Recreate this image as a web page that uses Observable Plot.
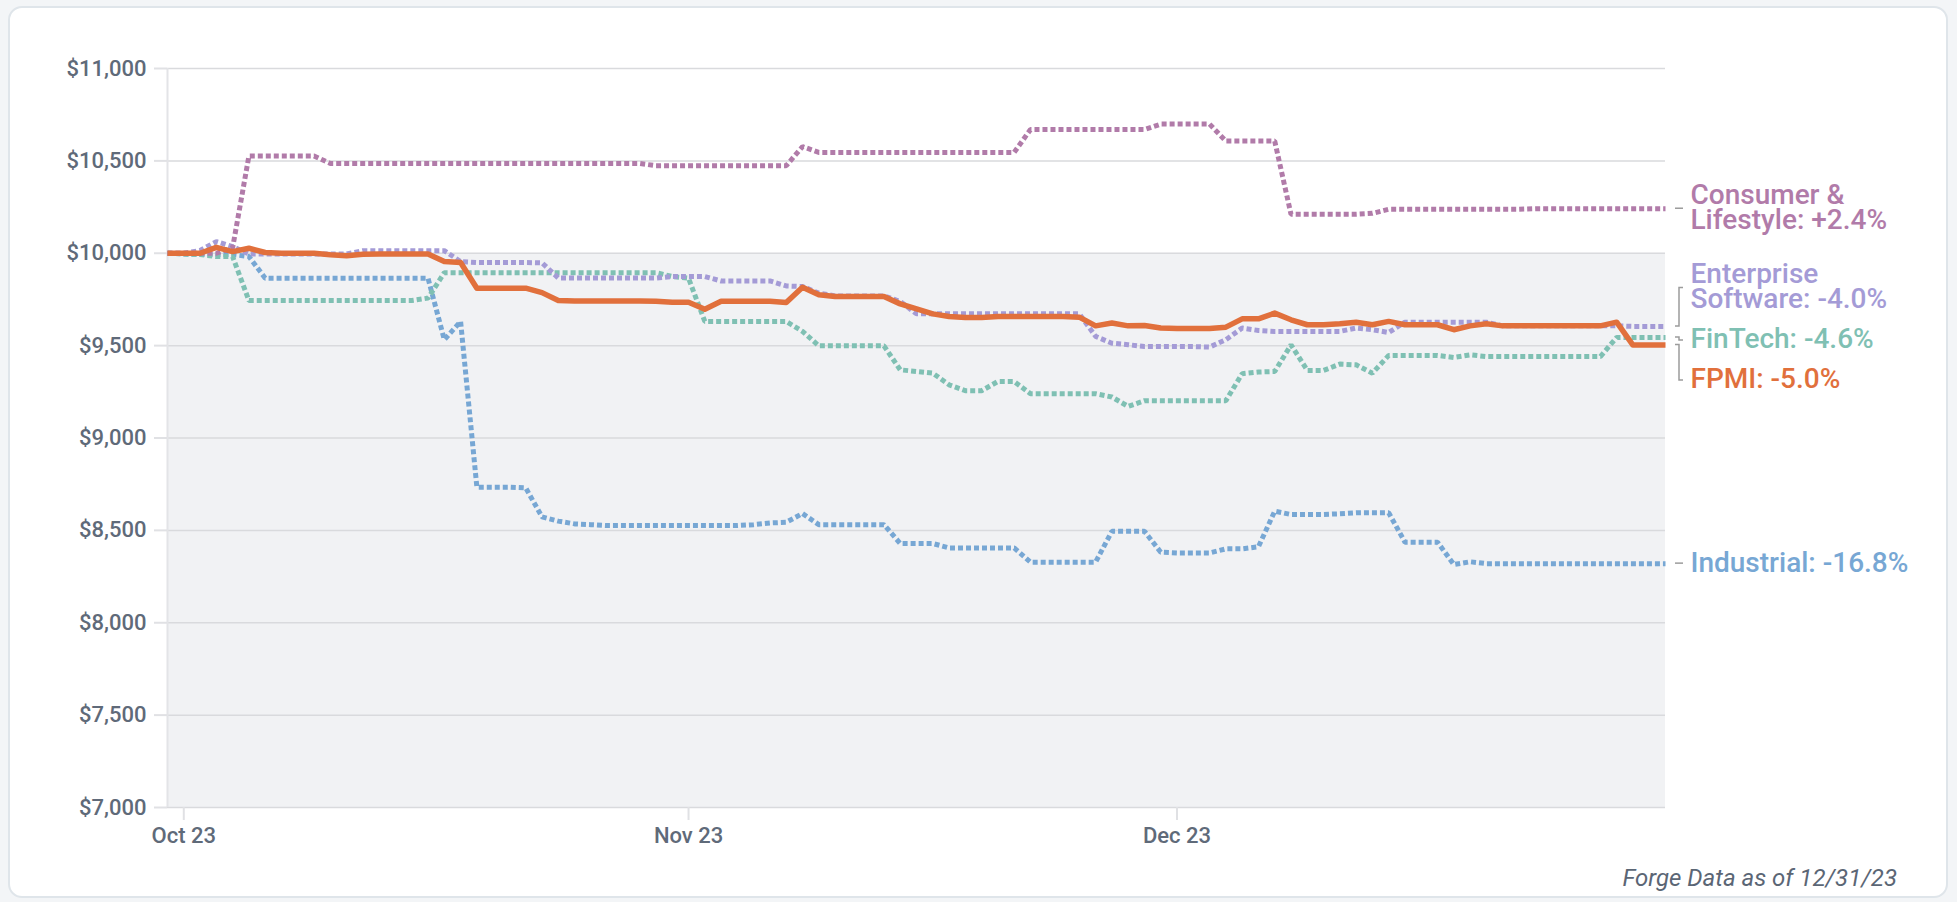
<!DOCTYPE html>
<html>
<head>
<meta charset="utf-8">
<script src="https://cdn.jsdelivr.net/npm/d3@7"></script>
<script src="https://cdn.jsdelivr.net/npm/@observablehq/plot@0.6"></script>
<style>
  html, body { margin: 0; padding: 0; width: 1957px; height: 902px; overflow: hidden; background: #f3f5f7; font-family: Roboto, sans-serif; }
  #card { position: absolute; left: 8px; top: 6px; width: 1936px; height: 888px; background: #fff; border: 2px solid #dfe5ea; border-radius: 14px; box-sizing: content-box; }
  #chart { position: absolute; left: 0; top: 0; }
  #caption { position: absolute; right: 60px; top: 864px; font-size: 24px; line-height: 28px; font-style: italic; color: #5b6675; font-family: Roboto, sans-serif; }
</style>
</head>
<body>
<div id="card"></div>
<div id="chart"></div>
<div id="caption">Forge Data as of 12/31/23</div>
<script>
// ---- data ----
const startDate = new Date(Date.UTC(2023, 8, 30));
const endDate = new Date(Date.UTC(2023, 11, 31));
const xTicks = [new Date(Date.UTC(2023, 9, 1)), new Date(Date.UTC(2023, 10, 1)), new Date(Date.UTC(2023, 11, 1))];
const yTicks = [7000, 7500, 8000, 8500, 9000, 9500, 10000, 10500, 11000];
const baseline = 10000;

const consumer = [10000,10000,10000,10000,10030,10526,10526,10526,10526,10526,
  10486,10486,10486,10486,10486,10486,10486,10486,10486,10486,10486,10486,10486,10486,10486,10486,10486,10486,10486,10486,
  10474,10474,10474,10474,10474,10474,10474,10474,10474,10577,
  10546,10546,10546,10546,10546,10546,10546,10546,10546,10546,10546,10546,10546,
  10670,10670,10670,10670,10670,10670,10670,10670,
  10699,10699,10699,10699,10607,10607,10607,10607,
  10211,10211,10211,10211,10211,10216,
  10238,10238,10238,10238,10238,10238,10238,10238,10238,
  10241,10241,10241,10241,10241,10241,10241,10241,10241];

const enterprise = [10000,10000,10015,10063,10036,
  9996,9996,9996,9996,9996,9996,9996,
  10014,10014,10014,10014,10014,10014,
  9955,9950,9950,9950,9950,9948,
  9866,9866,9866,9866,9866,9866,9866,
  9874,9874,9874,9850,9850,9850,9850,
  9823,9820,9784,9769,9769,9769,9769,9739,
  9672,9672,9672,9672,9672,9672,9672,9672,9672,9672,9672,
  9550,9513,9505,9495,9495,9495,9495,9492,9532,9595,9582,
  9577,9577,9577,9577,9577,9595,9586,9571,
  9627,9627,9627,9627,9627,9627,
  9607,9607,9607,9607,9607,9607,9607,9607,
  9604,9604,9604];

const fintech = [10000,9996,9993,9982,9982,
  9744,9744,9744,9744,9744,9744,9744,9744,9744,9744,9744,9757,
  9895,9895,9895,9895,9895,9895,9895,9895,9895,9895,9895,9895,9895,9895,
  9874,9865,9631,9631,9631,9631,9631,9631,9577,
  9499,9499,9499,9499,9499,9369,9360,9351,9288,9256,9256,9306,9306,
  9240,9240,9240,9240,9240,9222,9171,
  9202,9202,9202,9202,9202,9202,9348,9357,9360,9504,9366,9366,9400,9396,9351,
  9447,9447,9447,9447,9436,9450,
  9441,9441,9441,9441,9441,9441,9441,9441,
  9544,9544,9544,9544];

const fpmi = [10000,10000,10000,10032,10009,10027,10004,10000,10000,10000,9992,9987,9995,
  9996,9996,9996,9996,9955,9950,9811,9811,9811,9811,9787,9744,
  9742,9742,9742,9742,9742,9740,9735,9735,9697,9740,9740,9740,9740,9733,9816,9775,
  9766,9766,9766,9766,9726,9699,9672,9658,9652,9652,
  9658,9658,9658,9658,9658,9654,9607,9622,9607,9609,9595,9593,9593,9593,
  9600,9645,9645,9676,9640,9613,9613,9618,9627,9613,9631,9613,9613,9613,
  9586,9607,9618,9607,9607,9607,9607,9607,9607,9607,9627,9503,9503,9503];

const industrial = [10000,9996,9993,9993,9993,9982,
  9865,9865,9865,9865,9865,9865,9865,9865,9865,9865,9865,
  9532,9631,8734,8734,8734,8730,8573,8550,8535,8531,
  8526,8526,8526,8526,8526,8526,8526,8526,8526,
  8531,8540,8544,8591,8531,8531,8531,8531,8531,
  8429,8429,8429,8405,8405,8405,8405,8405,
  8328,8328,8328,8328,8328,8495,8495,8495,8382,8378,8378,8378,
  8400,8400,8411,8604,8586,8586,8586,8590,8595,8595,8595,
  8436,8436,8436,8315,8330,
  8320,8320,8320,8320,8320,8320,8320,8320,8320,8320,8320,8320];

const seriesNames = ["Consumer & Lifestyle", "Enterprise Software", "FinTech", "FPMI", "Industrial"];
const seriesValues = [consumer, enterprise, fintech, fpmi, industrial];
const seriesColors = ["#b17ba9", "#a49bd6", "#7fc0b3", "#e1703c", "#77a7d4"];
const seriesDashed = [true, true, true, false, true];
const labelTexts = ["Consumer &\nLifestyle: +2.4%", "Enterprise\nSoftware: -4.0%", "FinTech: -4.6%", "FPMI: -5.0%", "Industrial: -16.8%"];

// ---- build ----
const dates = consumer.map((_, i) => d3.utcDay.offset(startDate, i));
const series = seriesNames.map((name, k) => ({
  name, color: seriesColors[k], dashed: seriesDashed[k], label: labelTexts[k],
  data: seriesValues[k].map((v, i) => ({date: dates[i], value: v}))
}));
const drawOrder = [4, 2, 1, 0, 3];

const W = 1957, H = 860;
const common = {
  width: W, height: H,
  marginLeft: 167, marginRight: 292, marginTop: 68, marginBottom: 53,
  x: {type: "utc", domain: [startDate, endDate]},
  y: {domain: [7000, 11000]},
  style: {fontFamily: "Roboto, sans-serif", fontSize: "22px", fontWeight: 500, color: "#5f6a79", background: "transparent", overflow: "visible"}
};

function lineMarks() {
  return drawOrder.map(k => {
    const s = series[k];
    return Plot.line(s.data, {
      x: "date", y: "value", stroke: s.color,
      strokeWidth: s.dashed ? 5 : 5.5,
      strokeDasharray: s.dashed ? "5 3" : null,
      strokeLinejoin: s.dashed ? "miter" : "round",
      strokeLinecap: "butt"
    });
  });
}

// pass 1: get the scales
const probe = Plot.plot({...common, marks: [...lineMarks(), Plot.axisX({ticks: []}), Plot.axisY({ticks: []})]});
const sy0 = probe.scale("y");

// dodge labels (least squares cluster placement)
const lineH = 25, gap = 15;
const items = series.map((s, k) => ({
  k,
  target: sy0.apply(s.data[s.data.length - 1].value),
  h: s.label.split("\n").length * lineH
}));
const sorted = items.slice().sort((a, b) => a.target - b.target);
let clusters = sorted.map(it => ({items: [it]}));
function layout(c) {
  const offs = [];
  let off = 0;
  c.items.forEach((it, i) => { if (i > 0) off += c.items[i - 1].h / 2 + gap + it.h / 2; offs.push(off); });
  const start = d3.mean(c.items, (it, i) => it.target - offs[i]);
  c.items.forEach((it, i) => it.pos = start + offs[i]);
  const last = c.items[c.items.length - 1];
  c.top = c.items[0].pos - c.items[0].h / 2;
  c.bottom = last.pos + last.h / 2;
}
clusters.forEach(layout);
let merged = true;
while (merged) {
  merged = false;
  for (let i = 0; i < clusters.length - 1; i++) {
    const a = clusters[i], b = clusters[i + 1];
    if (b.top - a.bottom < gap) {
      a.items = a.items.concat(b.items);
      clusters.splice(i + 1, 1);
      layout(a);
      merged = true;
      break;
    }
  }
}
items.forEach(it => { it.labelValue = sy0.invert(it.pos); });

const labelMarks = items.map(it => Plot.text([it], {
  x: () => endDate, y: "labelValue", text: () => series[it.k].label,
  fill: series[it.k].color, textAnchor: "start", lineAnchor: "middle",
  dx: 25, fontSize: 28, fontWeight: 500, lineHeight: 25 / 28
}));

const plot = Plot.plot({
  ...common,
  marks: [
    Plot.rect([{x1: startDate, x2: endDate, y1: yTicks[0], y2: baseline}], {x1: "x1", x2: "x2", y1: "y1", y2: "y2", fill: "#f1f2f4"}),
    Plot.ruleY(yTicks, {stroke: "#d9dadd", strokeWidth: 1.5}),
    Plot.ruleX([startDate], {stroke: "#e3e4e7", strokeWidth: 2}),
    Plot.axisY({ticks: yTicks, tickFormat: d => "$" + d3.format(",")(d), tickSize: 13, tickPadding: 8, fontSize: 22, stroke: "#e0e1e4", strokeWidth: 2, label: null}),
    Plot.axisX({ticks: xTicks, tickFormat: d3.utcFormat("%b %y"), tickSize: 13, tickPadding: 7, fontSize: 22, stroke: "#e0e1e4", strokeWidth: 2, label: null}),
    ...lineMarks(),
    ...labelMarks
  ]
});

// leaders drawn with the plot's own scales
const sx = plot.scale("x"), sy = plot.scale("y");
const xe = sx.apply(endDate);
const svg = d3.select(plot);
items.forEach(it => {
  const s = series[it.k];
  const ly = sy.apply(s.data[s.data.length - 1].value);
  const ty = sy.apply(it.labelValue);
  svg.append("path")
    .attr("d", `M${xe + 10},${ly}H${xe + 14}V${ty}H${xe + 18}`)
    .attr("fill", "none").attr("stroke", "#9c9c9c").attr("stroke-width", 1.5);
});

document.getElementById("chart").appendChild(plot);
</script>
</body>
</html>
